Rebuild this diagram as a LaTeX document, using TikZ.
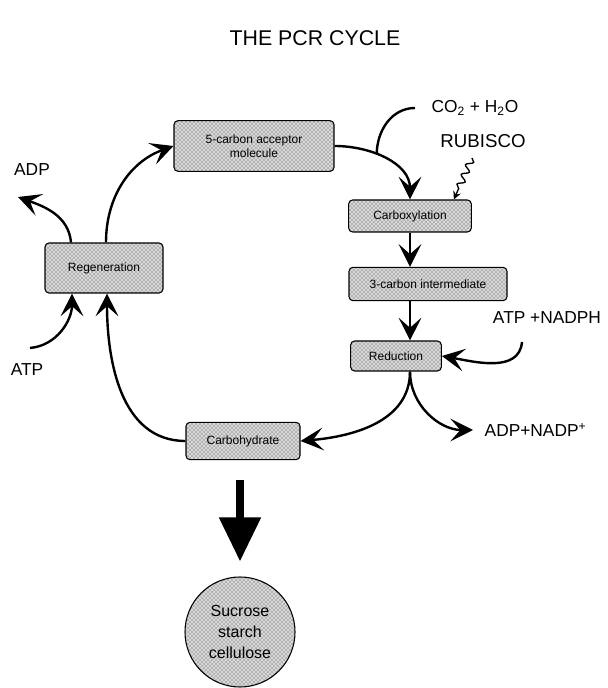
\documentclass[tikz,border=0pt]{standalone}
\usepackage{fontspec}
\setmainfont{Liberation Sans}
\usetikzlibrary{arrows.meta,calc,patterns,decorations.pathmorphing}

\tikzset{
	stage/.style={draw, line width=0.8pt, rounded corners=3pt, inner sep=0pt,
		preaction={fill=black!15}, pattern=crosshatch dots, pattern color=black!80,
		font=\fontsize{9}{10.5}\selectfont, align=center},
	flow/.style={line width=1.8pt, -{Stealth[length=17pt,width=17pt,inset=7.5pt]}},
	label/.style={font=\fontsize{13}{15}\selectfont}
}

\begin{document}
\begin{tikzpicture}[x=0.75pt,y=0.75pt]

	\useasboundingbox (0,0) rectangle (607,688);

	% Title
	\node (title) at (315,650) {\fontsize{16}{18}\selectfont THE PCR CYCLE};

	% The stages
	\node[stage, minimum width=120pt, minimum height=38pt] (acc) at (254,542) {5-carbon acceptor\\molecule};
	\node[stage, minimum width=92pt, minimum height=24pt] (carbox) at (410,472) {Carboxylation};
	\node[stage, minimum width=118.5pt, minimum height=25pt] (c3) at (428,404) {3-carbon intermediate};
	\node[stage, minimum width=68pt, minimum height=22.5pt] (red) at (396,332) {Reduction};
	\node[stage, minimum width=88.5pt, minimum height=37.5pt] (regen) at (104,420) {Regeneration};
	\node[stage, minimum width=85.5pt, minimum height=28pt] (carb) at (243,247) {Carbohydrate};
	\node[stage, circle, minimum size=82.5pt, font=\fontsize{12}{16}\selectfont] (sugar) at (240,56) {Sucrose\\starch\\cellulose};

	% Labels
	\node[label] (adp) at (32,518) {ADP};
	\node[label] (atp) at (27,318) {ATP};
	\node[label] (co2) at (475,580) {CO\textsubscript{2} + H\textsubscript{2}O};
	\node[label, font=\fontsize{14}{16}\selectfont] (rubisco) at (483,547) {RUBISCO};
	\node[label] (nadph) at (547,370) {ATP +NADPH};
	\node[label, anchor=west] (nadp) at (480,258) {ADP+NADP\textsuperscript{+}};

	% Free ends
	\coordinate (adptip) at (18,491);
	\coordinate (atpin) at (30,340);
	\coordinate (co2in) at (415,580);
	\coordinate (rubout) at (472,530);
	\coordinate (nadphin) at (522,346);
	\coordinate (nadptip) at (473,258);
	\coordinate (split) at (carbox.south |- red.south);

	% The cycle
	\draw[flow] (acc.east) to[out=0,in=90] coordinate[pos=0.4] (co2join) (carbox.north);
	\draw[flow] (carbox.south) -- (carbox.south |- c3.north);
	\draw[flow] (carbox.south |- c3.south) -- (carbox.south |- red.north);
	\draw[flow] (split) to[out=-90,in=5] (carb.east);
	\draw[flow] (carb.west) to[out=180,in=-90] ($(regen.south)+(3,0)$);
	\draw[flow] ($(regen.north)+(2,0)$) to[out=90,in=200] (acc.west);

	% Inputs and outputs
	\draw[line width=1.8pt] (co2in) to[out=180,in=90] (co2join);
	\draw[line width=1pt, -{Stealth[length=6pt,width=6pt]}, decorate,
		decoration={snake, amplitude=2.5pt, segment length=8pt, post length=6pt}]
		(rubout) -- ($(carbox.north east)+(-18,0)$);
	\draw[flow] (nadphin) to[out=-95,in=-10] (red.east);
	\draw[flow] (split) to[out=-90,in=180] (nadptip);
	\draw[flow] ($(regen.north)+(-33,0)$) to[out=95,in=-20] (adptip);
	\draw[flow] (atpin) to[out=5,in=-90] ($(regen.south)+(-32,0)$);

	% Carbohydrate to storage
	\draw[line width=6pt, -{Triangle[length=33pt,width=30pt]}]
		($(sugar.north |- carb.south)+(0,-20)$) -- ($(sugar.north)+(0,15)$);

\end{tikzpicture}
\end{document}
